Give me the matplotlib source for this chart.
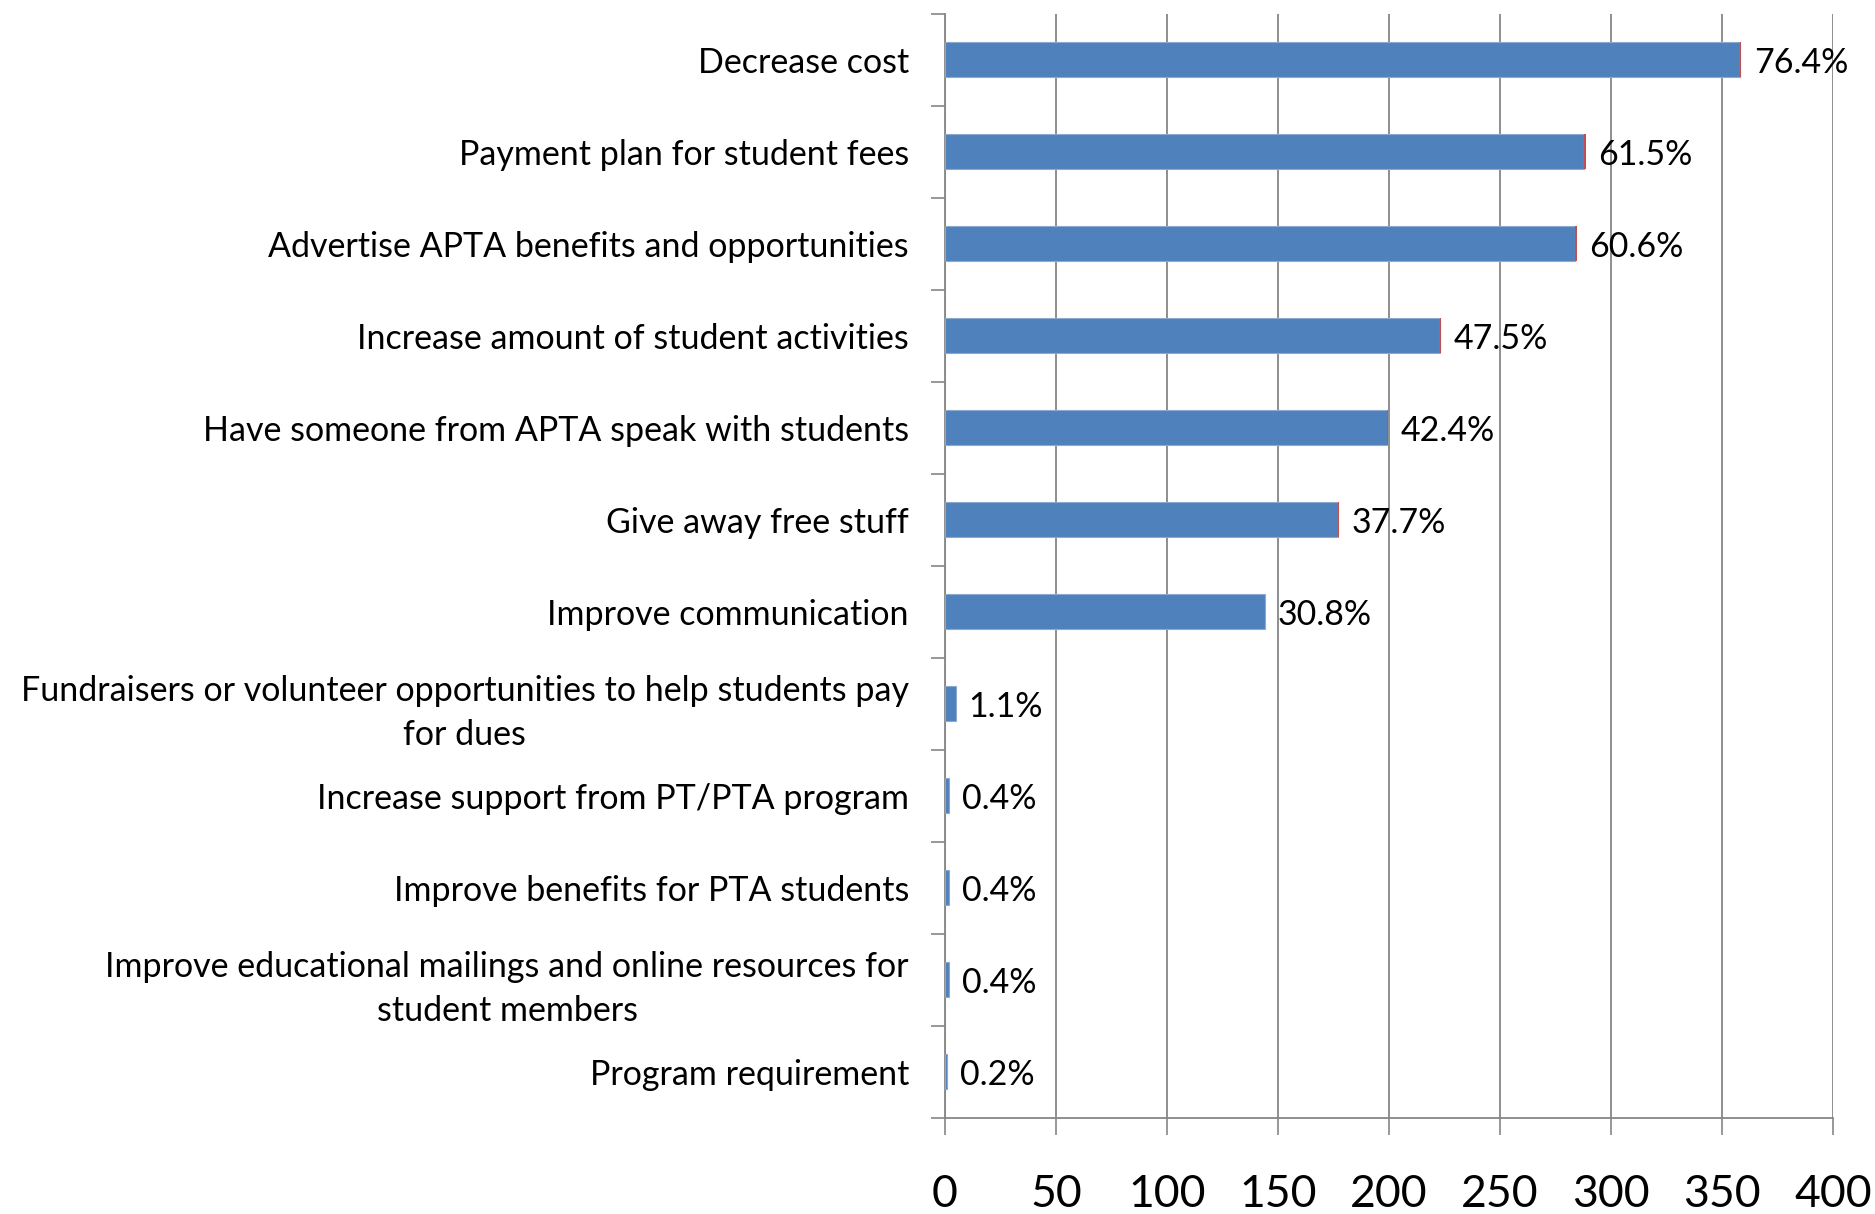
import matplotlib.pyplot as plt
import numpy as np

plt.rcParams['font.family'] = ['Lato', 'DejaVu Sans']

categories = [
    'Decrease cost',
    'Payment plan for student fees',
    'Advertise APTA benefits and opportunities',
    'Increase amount of student activities',
    'Have someone from APTA speak with students',
    'Give away free stuff',
    'Improve communication',
    'Fundraisers or volunteer opportunities to help students pay\nfor dues',
    'Increase support from PT/PTA program',
    'Improve benefits for PTA students',
    'Improve educational mailings and online resources for\nstudent members',
    'Program requirement',
]
counts = [358, 288, 284, 223, 199, 177, 144, 5, 2, 2, 2, 1]
percents = [76.4, 61.5, 60.6, 47.5, 42.4, 37.7, 30.8, 1.1, 0.4, 0.4, 0.4, 0.2]
xticks = [0, 50, 100, 150, 200, 250, 300, 350, 400]

fig = plt.figure(figsize=(18.75, 12.14), dpi=100)
ax = fig.add_axes([0.504, 0.0791, 0.4736, 0.9094])

y = np.arange(len(categories))
frac = [p / 100 for p in percents]

ax.barh(y, counts, height=0.38, color='#4F81BD', edgecolor='#8EA9CF', linewidth=0.8, zorder=3)
# the percentages form a thin red stacked series at the end of each bar
ax.barh(y, frac, left=counts, height=0.38, color='#C0504D', linewidth=0, zorder=3)

for yi, c, f, p in zip(y, counts, frac, percents):
    ax.annotate(f'{p}%', (c + f, yi), xytext=(9, -2), textcoords='offset points',
                ha='left', va='center', fontsize=24.5, color='black', zorder=4)

ax.set_xlim(0, 400)
ax.set_ylim(len(categories) - 0.5, -0.5)
ax.set_xticks(xticks)
ax.set_xticklabels([str(t) for t in xticks], fontsize=32)
ax.set_yticks(y)
ax.set_yticklabels(categories, fontsize=24.5, multialignment='center', linespacing=1.45)
ax.set_yticks(np.arange(len(categories) + 1) - 0.5, minor=True)

ax.tick_params(axis='y', which='major', length=0, pad=26)
ax.tick_params(axis='y', which='minor', length=10, width=1.2, color='#868686', direction='out')
ax.tick_params(axis='x', which='major', length=12, width=1.2, color='#868686', direction='out', pad=28)

ax.grid(axis='x', color='#868686', linewidth=1.3, zorder=0)
for side in ['top', 'right']:
    ax.spines[side].set_visible(False)
for side in ['left', 'bottom']:
    ax.spines[side].set_color('#868686')
    ax.spines[side].set_linewidth(1.3)

fig.savefig('out.png', dpi=100, facecolor='white')
